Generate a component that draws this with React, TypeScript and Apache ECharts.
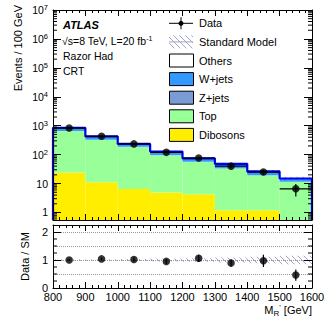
import React, { useEffect, useRef } from "react";
import * as echarts from "echarts";

// ---------------- data ----------------
const binEdges = [800, 900, 1000, 1100, 1200, 1300, 1400, 1500, 1600];
const dibosons = [24, 11, 6.5, 4.9, 4.3, 1.2, 1.2, 0];
const topQuark = [626, 314, 178, 90, 52, 32, 18, 11.5];
const zjets = [8, 4, 2, 1.3, 0.7, 0.6, 0.3, 0.15];
const wjets = [187, 93, 46, 31, 17, 14, 6.5, 3.2];
const others = [5, 3, 1.5, 1, 0.5, 0.4, 0.2, 0.1];
const dataCounts = [830, 430, 235, 120, 76, 40, 25, 6.6];
const dataErr = [29, 21, 15, 11, 9, 6.3, 5, 3];
const smRelUnc = [0.03, 0.03, 0.04, 0.05, 0.06, 0.09, 0.12, 0.15];
const ratio = [1.0, 1.04, 1.02, 0.95, 1.06, 0.89, 0.97, 0.46];
const ratioErr = [0.035, 0.05, 0.07, 0.09, 0.13, 0.13, 0.22, 0.2];
const ratioGridLines = [0.5, 1, 1.5, 2];

const Y_MIN = 0.55;
const Y_MAX = 1e7;
const R_MAX = 2.25;
const FONT = "'Liberation Sans', Arial, Helvetica, sans-serif";

const layers = [
  { name: "Dibosons", values: dibosons, color: "#ffee00" },
  { name: "Top", values: topQuark, color: "#99ff99" },
  { name: "Z+jets", values: zjets, color: "#7b9bd4" },
  { name: "W+jets", values: wjets, color: "#3399ff" },
  { name: "Others", values: others, color: "#ffffff" },
];

function makeHatch(): any {
  const c = document.createElement("canvas");
  c.width = 6;
  c.height = 6;
  const ctx = c.getContext("2d")!;
  ctx.strokeStyle = "#a4a4c8";
  ctx.lineWidth = 1;
  for (const k of [-6, 0, 6]) {
    ctx.beginPath();
    ctx.moveTo(k, 0);
    ctx.lineTo(k + 6, 6);
    ctx.stroke();
  }
  return { image: c, repeat: "repeat", imageWidth: 6, imageHeight: 6 };
}

export default function App() {
  const ref = useRef<HTMLDivElement>(null);
  useEffect(() => {
    if (!ref.current) return;
    const chart = echarts.init(ref.current, undefined, { renderer: "svg" });
    const hatch = makeHatch();
    const nb = binEdges.length - 1;

    // cumulative stacks
    let prev = new Array(nb).fill(0);
    const stackSeries: any[] = [];
    layers.forEach((layer) => {
      const next = prev.map((p, i) => p + layer.values[i]);
      const rows = [];
      for (let i = 0; i < nb; i++) {
        const lo = Math.max(prev[i], Y_MIN);
        const hi = Math.max(next[i], Y_MIN);
        if (hi > lo) rows.push([binEdges[i], binEdges[i + 1], lo, hi]);
      }
      stackSeries.push({
        type: "custom",
        name: layer.name,
        xAxisIndex: 0,
        yAxisIndex: 0,
        clip: true,
        z: 2,
        encode: { x: [0, 1], y: [2, 3] },
        data: rows,
        renderItem: (params: any, api: any) => {
          const p0 = api.coord([api.value(0), api.value(3)]);
          const p1 = api.coord([api.value(1), api.value(2)]);
          return {
            type: "rect",
            shape: { x: p0[0], y: p0[1], width: p1[0] - p0[0], height: p1[1] - p0[1] },
            style: { fill: layer.color },
          };
        },
      });
      prev = next;
    });
    const total = prev;

    // outline of total
    const outline: number[][] = [[binEdges[0], Y_MIN]];
    for (let i = 0; i < nb; i++) {
      outline.push([binEdges[i], total[i]]);
      outline.push([binEdges[i + 1], total[i]]);
    }
    outline.push([binEdges[nb], Y_MIN]);

    // log minor ticks
    const logMinor: number[] = [];
    for (let k = -1; k <= 6; k++) {
      for (let m = 2; m <= 9; m++) {
        const v = m * Math.pow(10, k);
        if (v >= Y_MIN && v <= Y_MAX) logMinor.push(v);
      }
    }
    const ratioMinor = [0.25, 0.5, 0.75, 1.25, 1.5, 1.75];

    const tickSeries = (xIdx: number, yIdx: number, vals: number[], len: number) => ({
      type: "custom",
      xAxisIndex: xIdx,
      yAxisIndex: yIdx,
      silent: true,
      z: 20,
      data: [[binEdges[0], vals[0]]],
      renderItem: (params: any, api: any) => {
        const children: any[] = [];
        vals.forEach((v) => {
          const l = api.coord([binEdges[0], v]);
          const r = api.coord([binEdges[nb], v]);
          children.push({ type: "line", shape: { x1: l[0], y1: l[1], x2: l[0] + len, y2: l[1] }, style: { stroke: "#000", lineWidth: 1 } });
          children.push({ type: "line", shape: { x1: r[0] - len, y1: r[1], x2: r[0], y2: r[1] }, style: { stroke: "#000", lineWidth: 1 } });
        });
        return { type: "group", children };
      },
    });

    const xBase: any = {
      type: "value",
      min: 800,
      max: 1600,
      interval: 100,
      z: 10,
      axisLine: { show: true, onZero: false, lineStyle: { color: "#000", width: 1 } },
      axisTick: { show: true, inside: true, length: 6, lineStyle: { color: "#000" } },
      minorTick: { show: true, splitNumber: 5, length: 3, lineStyle: { color: "#000" } },
      splitLine: { show: false },
      axisLabel: { show: false },
    };
    const yLogBase: any = {
      type: "log",
      logBase: 10,
      min: Y_MIN,
      max: Y_MAX,
      z: 10,
      gridIndex: 0,
      axisLine: { show: true, onZero: false, lineStyle: { color: "#000", width: 1 } },
      axisTick: { show: true, inside: true, length: 8, lineStyle: { color: "#000" } },
      splitLine: { show: false },
      axisLabel: { show: false },
    };
    const yRatioBase: any = {
      type: "value",
      min: 0,
      max: R_MAX,
      interval: 1,
      z: 10,
      gridIndex: 1,
      axisLine: { show: true, onZero: false, lineStyle: { color: "#000", width: 1 } },
      axisTick: { show: true, inside: true, length: 8, lineStyle: { color: "#000" } },
      splitLine: { show: false },
      axisLabel: { show: false },
    };

    const legendNames = ["Data", "Standard Model", "Others", "W+jets", "Z+jets", "Top", "Dibosons"];
    const legendGraphics: any[] = [];
    const lx = 169, lw = 24, lh = 13, ly0 = 23.3, lstep = 18.6;
    legendNames.forEach((nm, i) => {
      const cy = ly0 + i * lstep;
      if (nm === "Data") {
        legendGraphics.push({ type: "line", shape: { x1: lx, y1: cy, x2: lx + lw, y2: cy }, style: { stroke: "#000", lineWidth: 1 } });
        legendGraphics.push({ type: "line", shape: { x1: lx + lw / 2, y1: cy - 6, x2: lx + lw / 2, y2: cy + 6 }, style: { stroke: "#000", lineWidth: 1 } });
        legendGraphics.push({ type: "circle", shape: { cx: lx + lw / 2, cy, r: 2.5 }, style: { fill: "#000" } });
      } else if (nm === "Standard Model") {
        legendGraphics.push({ type: "rect", shape: { x: lx, y: cy - lh / 2, width: lw, height: lh }, style: { fill: hatch } });
        legendGraphics.push({ type: "line", shape: { x1: lx, y1: cy, x2: lx + lw, y2: cy }, style: { stroke: "#a4a4c8", lineWidth: 1 } });
      } else {
        const layer = layers.find((l) => l.name === nm)!;
        legendGraphics.push({ type: "rect", shape: { x: lx + 0.5, y: cy - lh / 2, width: lw, height: lh }, style: { fill: layer.color, stroke: "#000", lineWidth: 1 } });
      }
      legendGraphics.push({ type: "text", x: 199, y: cy, style: { text: nm, fill: "#000", font: `11px ${FONT}`, align: "left", verticalAlign: "middle" } });
    });

    const option: any = {
      animation: false,
      backgroundColor: "#fff",
      textStyle: { fontFamily: FONT },
      grid: [
        { left: 53, top: 10, width: 259, height: 210, show: false },
        { left: 53, top: 225, width: 259, height: 63, show: false },
      ],
      xAxis: [
        { ...xBase, gridIndex: 0, position: "bottom" },
        { ...xBase, gridIndex: 0, position: "top" },
        {
          ...xBase,
          gridIndex: 1,
          position: "bottom",
          axisLabel: { show: true, fontSize: 11, color: "#000", margin: 3, fontFamily: FONT, formatter: (v: number) => String(v) },
          name: "{m|M}{sub|R}{sup|'}{m| [GeV]}",
          nameLocation: "end",
          nameGap: 0,
          nameTextStyle: {
            align: "right",
            verticalAlign: "top",
            padding: [15, 0, 0, 0],
            rich: {
              m: { fontSize: 11, color: "#000", fontFamily: FONT, lineHeight: 14 },
              sub: { fontSize: 8, color: "#000", fontFamily: FONT, verticalAlign: "bottom", lineHeight: 14 },
              sup: { fontSize: 8, color: "#000", fontFamily: FONT, verticalAlign: "top", lineHeight: 14 },
            },
          },
        },
        { ...xBase, gridIndex: 1, position: "top" },
      ],
      yAxis: [
        {
          ...yLogBase,
          position: "left",
          axisLabel: {
            show: true,
            showMinLabel: false,
            margin: 5,
            color: "#000",
            formatter: (v: number) => {
              const e = Math.round(Math.log10(v));
              if (Math.abs(Math.pow(10, e) - v) > 1e-6 * v) return "";
              if (e === 0) return "{b|1}";
              if (e === 1) return "{b|10}";
              return `{b|10}{s|${e}}`;
            },
            rich: {
              b: { fontSize: 10.5, color: "#000", fontFamily: FONT, lineHeight: 13 },
              s: { fontSize: 7.5, color: "#000", fontFamily: FONT, verticalAlign: "top", lineHeight: 13 },
            },
          },
        },
        { ...yLogBase, position: "right" },
        {
          ...yRatioBase,
          position: "left",
          axisLabel: {
            show: true,
            margin: 5,
            color: "#000",
            fontSize: 11,
            fontFamily: FONT,
            formatter: (v: number) => (Math.abs(v - Math.round(v)) < 1e-9 ? String(Math.round(v)) : ""),
          },
          name: "Data / SM",
          nameLocation: "middle",
          nameGap: 21,
          nameTextStyle: { fontSize: 11, color: "#000", fontFamily: FONT },
        },
        { ...yRatioBase, position: "right" },
      ],
      graphic: [
        { type: "text", x: 18, y: 5, rotation: Math.PI / 2, style: { text: "Events / 100 GeV", fill: "#000", font: `11px ${FONT}`, align: "right", verticalAlign: "middle" } },
        { type: "text", x: 63, y: 25, style: { text: "ATLAS", fill: "#000", font: `italic bold 11px ${FONT}`, align: "left", verticalAlign: "middle" } },
        {
          type: "text",
          x: 62,
          y: 41,
          style: {
            text: "{n|√s=8 TeV, L=20 fb}{s|-1}",
            align: "left",
            verticalAlign: "middle",
            rich: {
              n: { fontSize: 10.5, fill: "#000", fontFamily: FONT, lineHeight: 13 },
              s: { fontSize: 7, fill: "#000", fontFamily: FONT, verticalAlign: "top", lineHeight: 13 },
            },
          },
        },
        { type: "text", x: 63, y: 56, style: { text: "Razor Had", fill: "#000", font: `10.5px ${FONT}`, align: "left", verticalAlign: "middle" } },
        { type: "text", x: 63, y: 71, style: { text: "CRT", fill: "#000", font: `10.5px ${FONT}`, align: "left", verticalAlign: "middle" } },
        ...legendGraphics,
      ],
      series: [
        ...stackSeries,
        {
          type: "custom",
          name: "Standard Model",
          xAxisIndex: 0,
          yAxisIndex: 0,
          clip: true,
          z: 3,
          encode: { x: [0, 1], y: [2, 3] },
          data: total.map((t, i) => [binEdges[i], binEdges[i + 1], t * (1 - smRelUnc[i]), t * (1 + smRelUnc[i])]),
          renderItem: (params: any, api: any) => {
            const p0 = api.coord([api.value(0), api.value(3)]);
            const p1 = api.coord([api.value(1), api.value(2)]);
            return { type: "rect", shape: { x: p0[0], y: p0[1], width: p1[0] - p0[0], height: p1[1] - p0[1] }, style: { fill: hatch } };
          },
        },
        {
          type: "line",
          name: "SM total",
          xAxisIndex: 0,
          yAxisIndex: 0,
          data: outline,
          showSymbol: false,
          clip: true,
          z: 4,
          lineStyle: { color: "#0000ee", width: 2.2 },
        },
        {
          type: "custom",
          name: "Data errors",
          xAxisIndex: 0,
          yAxisIndex: 0,
          clip: true,
          z: 5,
          data: dataCounts.map((d, i) => [(binEdges[i] + binEdges[i + 1]) / 2, d, dataErr[i], binEdges[i], binEdges[i + 1]]),
          encode: { x: 0, y: 1 },
          renderItem: (params: any, api: any) => {
            const x = api.value(0), y = api.value(1), e = api.value(2);
            const pLo = api.coord([x, Math.max(y - e, Y_MIN)]);
            const pHi = api.coord([x, y + e]);
            const l = api.coord([api.value(3), y]);
            const r = api.coord([api.value(4), y]);
            return {
              type: "group",
              children: [
                { type: "line", shape: { x1: pLo[0], y1: pLo[1], x2: pHi[0], y2: pHi[1] }, style: { stroke: "#000", lineWidth: 1.2 } },
                { type: "line", shape: { x1: l[0], y1: l[1], x2: r[0], y2: r[1] }, style: { stroke: "#000", lineWidth: 1.2 } },
              ],
            };
          },
        },
        {
          type: "scatter",
          name: "Data",
          xAxisIndex: 0,
          yAxisIndex: 0,
          z: 6,
          symbolSize: 7.5,
          itemStyle: { color: "#000" },
          data: dataCounts.map((d, i) => [(binEdges[i] + binEdges[i + 1]) / 2, d]),
        },
        tickSeries(0, 0, logMinor, 4),
        // ratio panel
        {
          type: "custom",
          name: "SM band",
          xAxisIndex: 2,
          yAxisIndex: 2,
          clip: true,
          z: 3,
          encode: { x: [0, 1], y: [2, 3] },
          data: smRelUnc.map((u, i) => [binEdges[i], binEdges[i + 1], 1 - u, 1 + u]),
          renderItem: (params: any, api: any) => {
            const p0 = api.coord([api.value(0), api.value(3)]);
            const p1 = api.coord([api.value(1), api.value(2)]);
            return { type: "rect", shape: { x: p0[0], y: p0[1], width: p1[0] - p0[0], height: p1[1] - p0[1] }, style: { fill: hatch } };
          },
        },
        {
          type: "custom",
          name: "Ratio errors",
          xAxisIndex: 2,
          yAxisIndex: 2,
          clip: true,
          z: 5,
          encode: { x: 0, y: 1 },
          data: ratio.map((r, i) => [(binEdges[i] + binEdges[i + 1]) / 2, r, ratioErr[i]]),
          renderItem: (params: any, api: any) => {
            const x = api.value(0), y = api.value(1), e = api.value(2);
            const pLo = api.coord([x, y - e]);
            const pHi = api.coord([x, y + e]);
            return { type: "line", shape: { x1: pLo[0], y1: pLo[1], x2: pHi[0], y2: pHi[1] }, style: { stroke: "#000", lineWidth: 1.2 } };
          },
        },
        {
          type: "scatter",
          name: "Ratio",
          xAxisIndex: 2,
          yAxisIndex: 2,
          z: 6,
          symbolSize: 7.5,
          itemStyle: { color: "#000" },
          data: ratio.map((r, i) => [(binEdges[i] + binEdges[i + 1]) / 2, r]),
          markLine: {
            silent: true,
            symbol: "none",
            label: { show: false },
            z: 1,
            lineStyle: { color: "#999", type: "dotted", width: 1 },
            data: ratioGridLines.map((v) => ({ yAxis: v })),
          },
        },
        tickSeries(2, 2, ratioMinor, 4),
      ],
    };
    chart.setOption(option);
    return () => chart.dispose();
  }, []);
  return <div ref={ref} style={{ position: "absolute", left: 0, top: 0, width: 332, height: 319 }} />;
}
